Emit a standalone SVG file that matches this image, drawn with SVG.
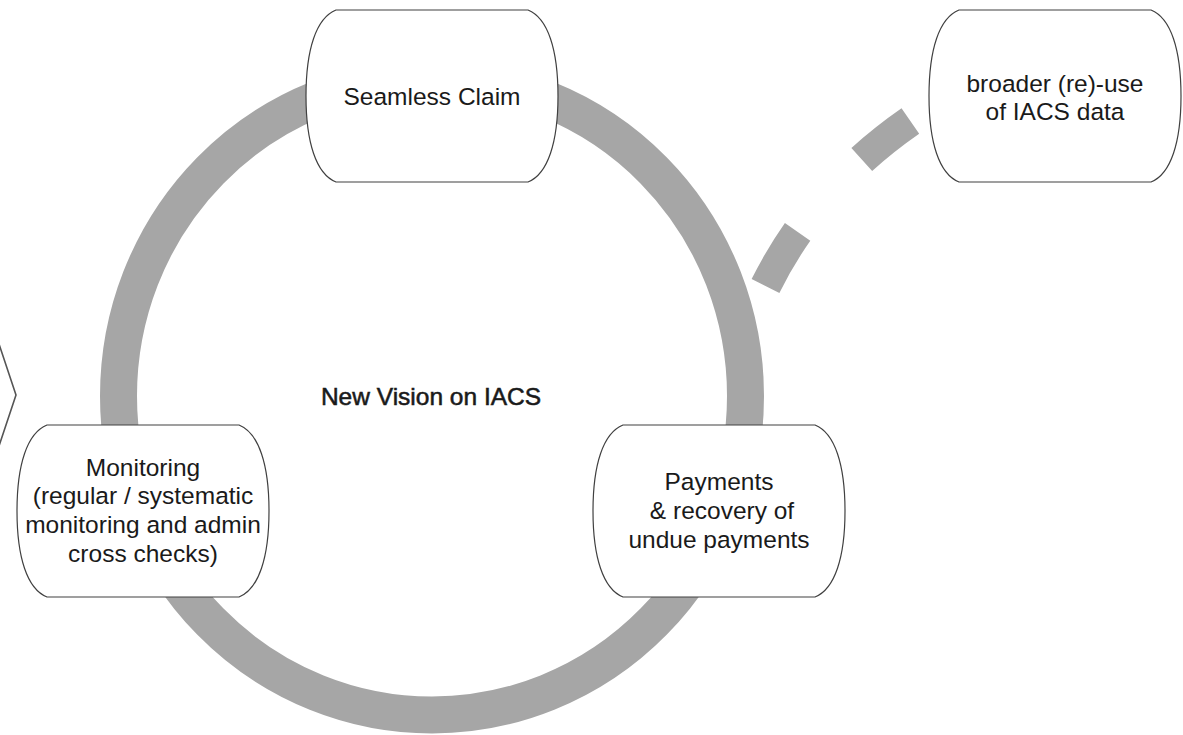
<svg xmlns="http://www.w3.org/2000/svg" xmlns:xlink="http://www.w3.org/1999/xlink" width="1183" height="735" viewBox="0 0 1183 735">
  <style>
    .ring { fill: none; stroke: #a6a6a6; stroke-width: 37; }
    .flow { fill: none; stroke: #a6a6a6; stroke-width: 31; stroke-linecap: butt; stroke-dasharray: 63 97 62 100; }
    .node { fill: #ffffff; stroke: #404040; stroke-width: 1.2; }
    .lbl { font-family: "Liberation Sans", Arial, Helvetica, sans-serif; font-size: 24.5px; fill: #1a1a1a; text-anchor: middle; }
    .title { stroke: #1a1a1a; stroke-width: 0.55; }
    .chev { fill: none; stroke: #555555; stroke-width: 1.6; }
  </style>
  <defs>
    <path id="barrel" d="M30,0 H222 c20,8 30,40 30,86 c0,46 -10,78 -30,86 H30 c-20,-8 -30,-40 -30,-86 c0,-46 10,-78 30,-86 Z"/>
  </defs>
  <rect width="1183" height="735" fill="#ffffff"/>

  <g id="cycle">
    <ellipse class="ring" cx="432" cy="396" rx="313.5" ry="319"/>
    <text class="lbl title" x="431" y="405">New Vision on IACS</text>
  </g>

  <g id="connectors">
    <path class="flow" d="M765.5,286 Q819,178 930,108"/>
  </g>

  <g id="prev-chevron">
    <polyline class="chev" points="-3,338 16,395 -3,452"/>
  </g>

  <g id="seamless-claim">
    <use href="#barrel" class="node" x="306" y="10"/>
    <text class="lbl" x="432" y="105">Seamless Claim</text>
  </g>

  <g id="broader-reuse">
    <use href="#barrel" class="node" x="929" y="10"/>
    <text class="lbl" x="1055" y="92">broader (re)-use</text>
    <text class="lbl" x="1055" y="120">of IACS data</text>
  </g>

  <g id="monitoring">
    <use href="#barrel" class="node" x="17" y="425"/>
    <text class="lbl" x="143" y="476">Monitoring</text>
    <text class="lbl" x="143" y="504">(regular / systematic</text>
    <text class="lbl" x="143" y="533">monitoring and admin</text>
    <text class="lbl" x="143" y="562">cross checks)</text>
  </g>

  <g id="payments">
    <use href="#barrel" class="node" x="593" y="425"/>
    <text class="lbl" x="719" y="490">Payments</text>
    <text class="lbl" x="722" y="519">&amp; recovery of</text>
    <text class="lbl" x="719" y="548">undue payments</text>
  </g>
</svg>
